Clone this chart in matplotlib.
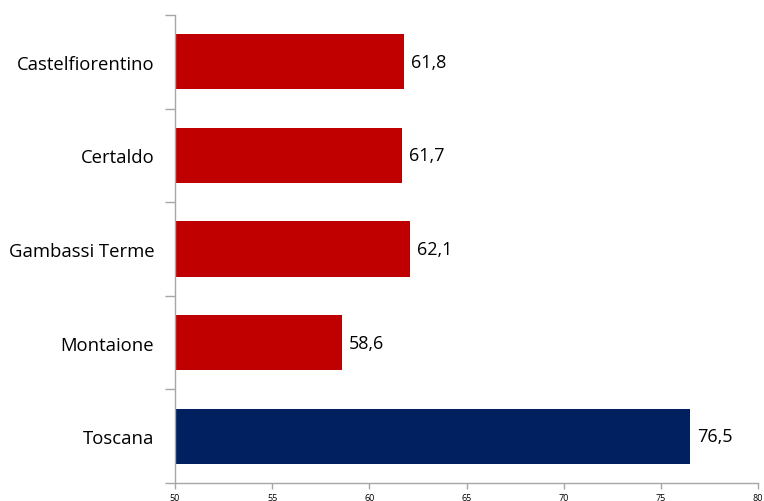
import matplotlib
matplotlib.use('Agg')
import matplotlib.pyplot as plt

# Data
categories = ['Castelfiorentino', 'Certaldo', 'Gambassi Terme', 'Montaione', 'Toscana']
values = [61.8, 61.7, 62.1, 58.6, 76.5]
bar_colors = ['#c00000', '#c00000', '#c00000', '#c00000', '#002060']
xticks = [50, 55, 60, 65, 70, 75, 80]

plt.rcParams['font.family'] = ['Open Sans', 'DejaVu Sans']

fig = plt.figure(figsize=(7.64, 5.02), dpi=100)
ax = fig.add_axes([175 / 764, 18 / 502, 583 / 764, 468 / 502])

ypos = list(range(len(categories)))
ax.barh(ypos, values, height=0.59, color=bar_colors, left=0, zorder=2)
ax.set_xlim(50, 80)
ax.set_ylim(len(categories) - 0.5, -0.5)

# value labels
for y, v in zip(ypos, values):
    ax.text(v + 0.35, y, f'{v:.1f}'.replace('.', ','), va='center', ha='left',
            fontsize=13, color='black')

ax.set_yticks([y + 0.5 for y in [-1] + ypos])
ax.set_yticklabels([])
ax.set_yticks(ypos, minor=True)
ax.set_yticklabels(categories, minor=True, fontsize=13.3)
ax.tick_params(axis='y', which='minor', length=0, pad=15)
ax.tick_params(axis='y', which='major', length=7, color='#a6a6a6', width=1)

ax.set_xticks(xticks)
ax.set_xticklabels([str(t) for t in xticks], fontsize=6.5)
ax.tick_params(axis='x', length=4, color='#a6a6a6', width=1, pad=3)

for s in ['top', 'right']:
    ax.spines[s].set_visible(False)
for s in ['left', 'bottom']:
    ax.spines[s].set_color('#a6a6a6')
    ax.spines[s].set_linewidth(1)

fig.savefig('out.png', dpi=100)
